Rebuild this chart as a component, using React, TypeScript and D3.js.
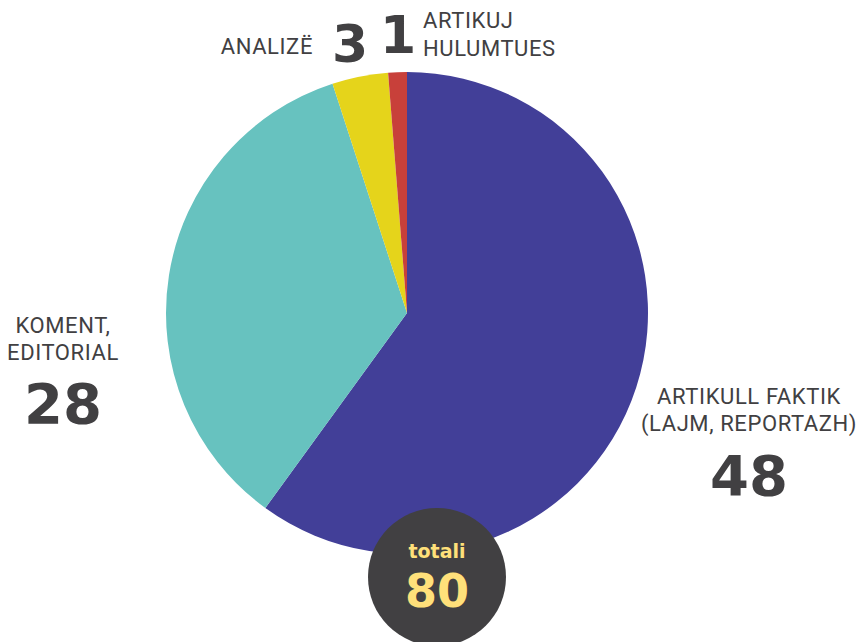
import React from "react";
import * as d3 from "d3";

const categories = ["ARTIKULL FAKTIK (LAJM, REPORTAZH)", "KOMENT, EDITORIAL", "ANALIZË", "ARTIKUJ HULUMTUES"];
const values = [48, 28, 3, 1];
const colors = ["#423F98", "#67C2BF", "#E5D41B", "#C8403A"];
const totalLabel = "totali";

const W = 858, H = 642;
const cx = 407, cy = 313, R = 241;
const textColor = "#414042";
const labelFont = "Roboto, 'Noto Sans', sans-serif";
const numFont = "'DejaVu Sans', Roboto, sans-serif";

export default function App() {
  const pie = d3.pie<number>().sort(null).value((d) => d)(values);
  const arc = d3.arc<d3.PieArcDatum<number>>().innerRadius(0).outerRadius(R);
  const total = d3.sum(values);
  return (
    <svg width={W} height={H} style={{ position: "absolute", left: 0, top: 0 }}>
      <g transform={`translate(${cx},${cy})`}>
        {pie.map((p, i) => (
          <path key={i} d={arc(p) || ""} fill={colors[i]} />
        ))}
      </g>
      <g fill={textColor} fontFamily={labelFont} fontSize={22} letterSpacing={0.6}>
        <text x={749} y={404} textAnchor="middle">ARTIKULL FAKTIK</text>
        <text x={749} y={431} textAnchor="middle">(LAJM, REPORTAZH)</text>
        <text x={63} y={333} textAnchor="middle">KOMENT,</text>
        <text x={63} y={360} textAnchor="middle">EDITORIAL</text>
        <text x={313} y={54} textAnchor="end">ANALIZË</text>
        <text x={423} y={28}>ARTIKUJ</text>
        <text x={423} y={56}>HULUMTUES</text>
      </g>
      <g fill={textColor} fontFamily={numFont} fontWeight={900}>
        <text x={749} y={495} textAnchor="middle" fontSize={56}>{values[0]}</text>
        <text x={63} y={423} textAnchor="middle" fontSize={56}>{values[1]}</text>
        <text x={350} y={62} textAnchor="middle" fontSize={52}>{values[2]}</text>
        <text x={398} y={53} textAnchor="middle" fontSize={52}>{values[3]}</text>
      </g>
      <circle cx={437} cy={577} r={69} fill="#414042" />
      <text x={437} y={558} textAnchor="middle" fill="#FFE07A" fontFamily={numFont} fontWeight={900} fontSize={19}>{totalLabel}</text>
      <text x={437} y={607} textAnchor="middle" fill="#FFE07A" fontFamily={numFont} fontWeight={900} fontSize={46}>{total}</text>
    </svg>
  );
}
